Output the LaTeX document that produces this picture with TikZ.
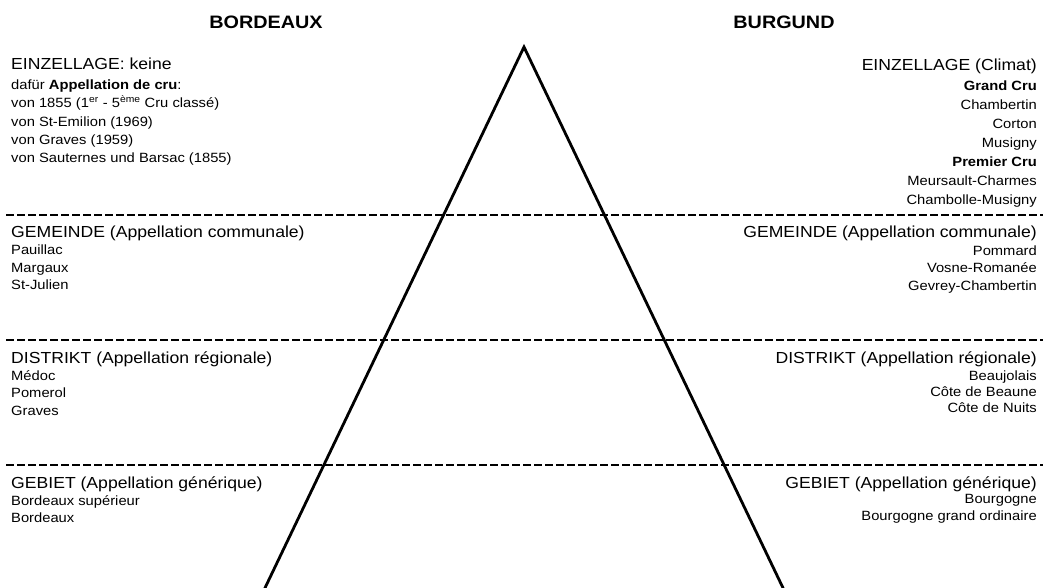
\documentclass[tikz,border=0pt]{standalone}
\usepackage{fontspec}
\setmainfont{Liberation Sans}[FakeStretch=1.1]
\begin{document}
\begin{tikzpicture}[x=1pt,y=-1pt,
  region/.style={font=\fontsize{18}{20}\selectfont\bfseries, anchor=base, inner sep=0pt},
  level/.style={font=\fontsize{16}{18}\selectfont, inner sep=0pt},
  item/.style={font=\fontsize{13.4}{15}\selectfont, inner sep=0pt},
  lft/.style={anchor=base west},
  rgt/.style={anchor=base east},
  divider/.style={line width=2.2pt, dash pattern=on 7.5pt off 3.5pt},
  pyramid/.style={line width=2.8pt, line join=miter}]
\useasboundingbox (0,0) rectangle (1047,587);

% pyramid
\coordinate (apex) at (524,47);
\coordinate (baseL) at (264,590);
\coordinate (baseR) at (784,590);
\draw[pyramid] (baseL) -- (apex) -- (baseR);

% level dividers
\foreach \y/\n in {215/1,340/2,465/3}{
  \coordinate (d\n L) at (6,\y);
  \coordinate (d\n R) at (1043,\y);
  \draw[divider] (d\n L) -- (d\n R);
}

% region headings
\node[region] (bdx) at (266,28.5) {BORDEAUX};
\node[region] (bgd) at (784,28.5) {BURGUND};

% --- Bordeaux (left column) ---
\node[level,lft] (bE)  at (11,69)    {EINZELLAGE: keine};
\node[item,lft]  (bE1) at (11,89)    {dafür \textbf{Appellation de cru}:};
\node[item,lft]  (bE2) at (11,107.5) {von 1855 (1\textsuperscript{er} - 5\textsuperscript{ème} Cru classé)};
\node[item,lft]  (bE3) at (11,126)   {von St-Emilion (1969)};
\node[item,lft]  (bE4) at (11,144)   {von Graves (1959)};
\node[item,lft]  (bE5) at (11,162)   {von Sauternes und Barsac (1855)};

\node[level,lft] (bG)  at (11,237)   {GEMEINDE (Appellation communale)};
\node[item,lft]  (bG1) at (11,254.5) {Pauillac};
\node[item,lft]  (bG2) at (11,272)   {Margaux};
\node[item,lft]  (bG3) at (11,289.5) {St-Julien};

\node[level,lft] (bD)  at (11,363)   {DISTRIKT (Appellation régionale)};
\node[item,lft]  (bD1) at (11,380)   {Médoc};
\node[item,lft]  (bD2) at (11,397.5) {Pomerol};
\node[item,lft]  (bD3) at (11,415)   {Graves};

\node[level,lft] (bR)  at (11,488)   {GEBIET (Appellation générique)};
\node[item,lft]  (bR1) at (11,505)   {Bordeaux supérieur};
\node[item,lft]  (bR2) at (11,522)   {Bordeaux};

% --- Burgund (right column) ---
\node[level,rgt] (uE)  at (1037,70)  {EINZELLAGE (Climat)};
\node[item,rgt]  (uE1) at (1037,90)  {\textbf{Grand Cru}};
\node[item,rgt]  (uE2) at (1037,109) {Chambertin};
\node[item,rgt]  (uE3) at (1037,128) {Corton};
\node[item,rgt]  (uE4) at (1037,147) {Musigny};
\node[item,rgt]  (uE5) at (1037,166) {\textbf{Premier Cru}};
\node[item,rgt]  (uE6) at (1037,185) {Meursault-Charmes};
\node[item,rgt]  (uE7) at (1037,204) {Chambolle-Musigny};

\node[level,rgt] (uG)  at (1037,237)   {GEMEINDE (Appellation communale)};
\node[item,rgt]  (uG1) at (1037,255)   {Pommard};
\node[item,rgt]  (uG2) at (1037,272.5) {Vosne-Romanée};
\node[item,rgt]  (uG3) at (1037,290)   {Gevrey-Chambertin};

\node[level,rgt] (uD)  at (1037,363)   {DISTRIKT (Appellation régionale)};
\node[item,rgt]  (uD1) at (1037,380)   {Beaujolais};
\node[item,rgt]  (uD2) at (1037,396.5) {Côte de Beaune};
\node[item,rgt]  (uD3) at (1037,412)   {Côte de Nuits};

\node[level,rgt] (uR)  at (1037,488)   {GEBIET (Appellation générique)};
\node[item,rgt]  (uR1) at (1037,503.5) {Bourgogne};
\node[item,rgt]  (uR2) at (1037,520.5) {Bourgogne grand ordinaire};
\end{tikzpicture}
\end{document}
